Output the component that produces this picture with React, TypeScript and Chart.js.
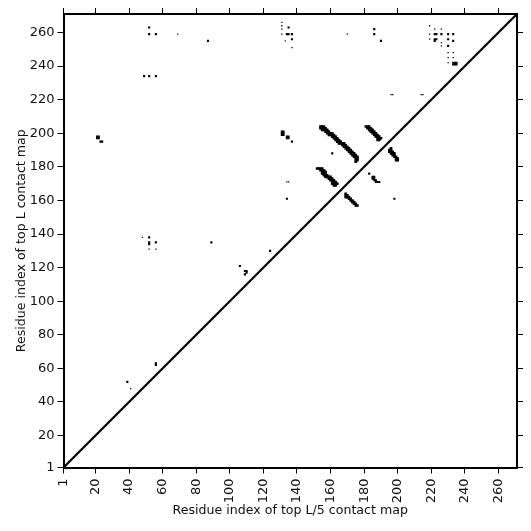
import React, { useEffect, useRef } from "react";
import { Chart, registerables } from "chart.js";

Chart.register(...registerables);

const tickValues = [1, 20, 40, 60, 80, 100, 120, 140, 160, 180, 200, 220, 240, 260];
const axisMin = 1;
const axisMax = 271;
const xTitle = "Residue index of top L/5 contact map";
const yTitle = "Residue index of top L contact map";

const scatteredContacts: number[][] = [
  [52,263],[52,259],[56,259],[87,255],[49,234],[52,234],[56,234],
  [21,198],[22,198],[21,197],[22,197],[23,195],[24,195],
  [135,263],[134,259],[135,259],[137,259],[137,256],
  [131,201],[132,201],[131,200],[132,200],[131,199],[132,199],[134,198],[135,198],[134,197],[135,197],[137,195],[134,161],
  [52,138],[52,135],[52,134],[56,135],[89,135],[106,121],[109,118],[110,118],[110,117],[109,116],[124,130],
  [56,63],[56,62],[39,52],
  [186,262],[186,259],[190,255],
  [222,259],[223,259],[222,256],[223,256],[222,255],
  [226,259],[230,259],[233,259],[230,256],[233,255],[230,252],
  [233,241],[234,241],[235,241],[233,242],[234,242],[235,242],[161,188],
];

const faintContacts: number[][] = [
  [69,259],[131,266],[131,264],[131,262],[131,259],[133,255],[137,251],[134,171],[135,171],
  [48,138],[52,131],[56,131],[41,48],[170,259],
  [219,264],[219,259],[219,256],[222,262],[226,262],[226,254],[226,252],
  [230,248],[233,248],[230,245],[233,245],[230,242],[196,223],[197,223],[214,223],[215,223],
];

const strandA: number[][] = [
  [154,204],[155,204],[156,204],[154,203],[155,203],[156,203],[157,203],
  [155,202],[156,202],[157,202],[158,202],[157,201],[158,201],[159,201],
  [158,200],[159,200],[160,200],[161,200],[159,199],[160,199],[161,199],[162,199],
  [161,198],[162,198],[163,198],[162,197],[163,197],[164,197],[163,196],[164,196],[165,196],
  [164,195],[165,195],[166,195],[165,194],[166,194],[167,194],[168,194],
  [167,193],[168,193],[169,193],[168,192],[169,192],[170,192],[169,191],[170,191],[171,191],
  [170,190],[171,190],[172,190],[171,189],[172,189],[173,189],[172,188],[173,188],[174,188],
  [173,187],[174,187],[175,187],[174,186],[175,186],[176,186],[175,185],[176,185],
  [175,184],[176,184],[175,183],
];

const strandB: number[][] = [
  [181,204],[182,204],[183,204],[182,203],[183,203],[184,203],[183,202],[184,202],[185,202],
  [184,201],[185,201],[186,201],[185,200],[186,200],[187,200],[186,199],[187,199],[188,199],
  [187,198],[188,198],[189,198],[188,197],[189,197],[190,197],[188,196],[189,196],
];

const strandC: number[][] = [
  [152,179],[153,179],[154,179],[155,179],[154,178],[155,178],[156,178],[155,177],[156,177],[157,177],
  [155,176],[156,176],[157,176],[156,175],[157,175],[158,175],[157,174],[158,174],[159,174],[160,174],
  [159,173],[160,173],[161,173],[160,172],[161,172],[162,172],[161,171],[162,171],[163,171],
  [161,170],[162,170],[163,170],[164,170],[162,169],[163,169],
];

const strandD: number[][] = [
  [169,164],[169,163],[170,163],[169,162],[170,162],[171,162],[171,161],[172,161],
  [172,160],[173,160],[173,159],[174,159],[174,158],[175,158],[175,157],[176,157],
];

const strandE: number[][] = [
  [196,191],[195,190],[196,190],[195,189],[196,189],[197,189],[196,188],[197,188],[198,188],
  [197,187],[198,187],[198,186],[199,186],[199,185],[200,185],[199,184],[200,184],
];

const strandF: number[][] = [
  [183,176],[185,174],[186,174],[185,173],[186,173],[186,172],[187,172],[187,171],[188,171],[189,171],
  [198,161],
];

const diagonal: number[][] = [[axisMin, axisMin], [axisMax, axisMax]];

const toPoints = (rows: number[][]) => rows.map(([x, y]) => ({ x, y }));

export default function App() {
  const ref = useRef<HTMLCanvasElement>(null);

  useEffect(() => {
    if (!ref.current) return;
    const fixedTicks = (scale: any) => {
      scale.ticks = tickValues.map((value) => ({ value }));
    };
    const family = "'DejaVu Sans'";
    const baseAxis = {
      type: "linear",
      min: axisMin,
      max: axisMax,
      afterBuildTicks: fixedTicks,
      border: { display: true, color: "#000", width: 2 },
      grid: { drawOnChartArea: false, drawTicks: true, tickLength: 6, tickWidth: 1, tickColor: "#000" },
    };
    const hiddenLabels = { callback: () => "", padding: 0 };
    const square = {
      type: "scatter",
      backgroundColor: "#000",
      borderColor: "#000",
      borderWidth: 0,
      pointStyle: "rect",
      pointRadius: 1.5,
      pointHoverRadius: 1.5,
      showLine: false,
    };
    const thick = { ...square, pointRadius: 1.85 };

    const chart = new Chart(ref.current, {
      type: "scatter",
      data: {
        datasets: [
          { ...square, data: toPoints(scatteredContacts) },
          { ...square, pointRadius: 0.9, data: toPoints(faintContacts) },
          { ...thick, data: toPoints(strandA) },
          { ...thick, data: toPoints(strandB) },
          { ...thick, data: toPoints(strandC) },
          { ...thick, data: toPoints(strandD) },
          { ...thick, data: toPoints(strandE) },
          { ...square, data: toPoints(strandF) },
          {
            type: "scatter",
            data: toPoints(diagonal),
            showLine: true,
            borderColor: "#000",
            borderWidth: 2.2,
            pointRadius: 0,
          },
        ],
      } as any,
      options: {
        responsive: false,
        animation: false,
        layout: { padding: 0 },
        plugins: { legend: { display: false }, tooltip: { enabled: false } },
        scales: {
          x: {
            ...baseAxis,
            position: "bottom",
            afterFit: (s: any) => { s.height = 63.5; },
            ticks: {
              color: "#111",
              font: { family, size: 13 },
              minRotation: 90,
              maxRotation: 90,
              padding: 5,
              autoSkip: false,
              callback: (v: any) => String(v),
            },
            title: {
              display: true,
              text: xTitle,
              color: "#111",
              font: { family, size: 12.6 },
              padding: { top: 0, bottom: 13 },
            },
          },
          y: {
            ...baseAxis,
            position: "left",
            afterFit: (s: any) => { s.width = 63.5; },
            ticks: {
              color: "#111",
              font: { family, size: 13 },
              padding: 3,
              autoSkip: false,
              callback: (v: any) => String(v),
            },
            title: {
              display: true,
              text: yTitle,
              color: "#111",
              font: { family, size: 12.6 },
              padding: { top: 14, bottom: 0 },
            },
          },
          xTop: {
            ...baseAxis,
            position: "top",
            afterFit: (s: any) => { s.height = 14; },
            ticks: hiddenLabels,
          },
          yRight: {
            ...baseAxis,
            position: "right",
            afterFit: (s: any) => { s.width = 14; },
            ticks: hiddenLabels,
          },
        },
      } as any,
    });
    return () => chart.destroy();
  }, []);

  return (
    <canvas
      ref={ref}
      width={531}
      height={531}
      style={{ position: "fixed", left: 0, top: 0, width: 531, height: 531, background: "#fff" }}
    />
  );
}
